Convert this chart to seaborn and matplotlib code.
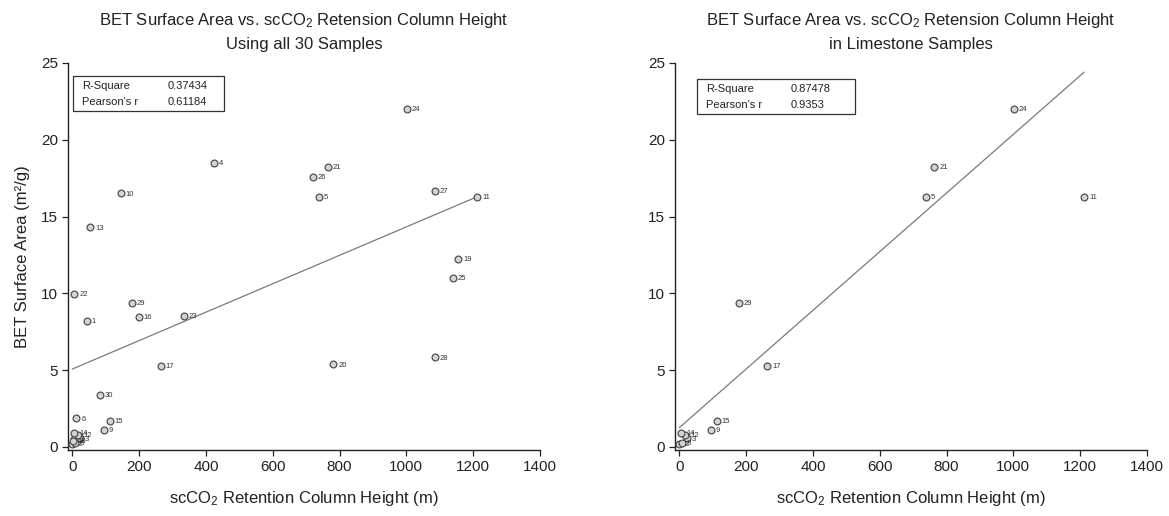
import matplotlib
matplotlib.use("Agg")
import matplotlib.pyplot as plt
import seaborn as sns
import pandas as pd
from matplotlib.patches import Rectangle

# ---------------- data ----------------
sample_ids = [1, 2, 3, 4, 5, 6, 7, 8, 9, 10,
              11, 12, 13, 14, 15, 16, 17, 18, 19, 20,
              21, 22, 23, 24, 25, 26, 27, 28, 29, 30]
column_height = [44, 0, 22, 424, 739, 12, 6, 8, 95, 145,
                 1212, 18, 54, 6, 112, 198, 264, 2, 1156, 781,
                 764, 6, 333, 1002, 1140, 721, 1085, 1085, 178, 82]
surface_area = [8.2, 0.22, 0.55, 18.49, 16.3, 1.85, 0.5, 0.26, 1.1, 16.5,
                16.27, 0.76, 14.29, 0.91, 1.68, 8.48, 5.28, 0.38, 12.24, 5.37,
                18.25, 9.96, 8.53, 22.03, 10.98, 17.57, 16.68, 5.83, 9.35, 3.37]
limestone_ids = [2, 3, 5, 8, 9, 11, 12, 14, 15, 17, 21, 24, 29]

# linear fits as drawn in the picture (intercept, slope)
fit_intercepts = [5.07, 1.25]
fit_slopes = [0.009256, 0.0191]

stat_names = ["R-Square", "Pearson's r"]
stats_all = ["0.37434", "0.61184"]
stats_lime = ["0.87478", "0.9353"]

titles = ["BET Surface Area vs. scCO$_2$ Retension Column Height\nUsing all 30 Samples",
          "BET Surface Area vs. scCO$_2$ Retension Column Height\nin Limestone Samples"]
x_label = "scCO$_2$ Retention Column Height (m)"
y_label = "BET Surface Area (m\u00b2/g)"
x_ticks = [0, 200, 400, 600, 800, 1000, 1200, 1400]
y_ticks = [0, 5, 10, 15, 20, 25]

# ---------------- styling ----------------
sns.set_theme(style="white")
plt.rcParams["font.family"] = ["Liberation Sans", "DejaVu Sans"]
plt.rcParams["mathtext.fontset"] = "custom"
plt.rcParams["mathtext.rm"] = "Liberation Sans"
plt.rcParams["mathtext.it"] = "Liberation Sans:italic"
plt.rcParams["mathtext.bf"] = "Liberation Sans:bold"

df = pd.DataFrame({"id": sample_ids, "height": column_height, "area": surface_area})
df_lime = df[df["id"].isin(limestone_ids)]

fig = plt.figure(figsize=(11.69, 5.16), dpi=100)
ax_l = fig.add_axes([0.0582, 0.128, 0.4037, 0.750])
ax_r = fig.add_axes([0.5774, 0.128, 0.4037, 0.750])

panels = [(ax_l, df, stats_all, titles[0], True, 0),
          (ax_r, df_lime, stats_lime, titles[1], False, 1)]

for ax, data, stats, title, show_ylabel, k in panels:
    xs = [data["height"].min(), data["height"].max()]
    fit_df = pd.DataFrame({"height": xs,
                           "area": [fit_intercepts[k] + fit_slopes[k] * v for v in xs]})
    sns.lineplot(data=fit_df, x="height", y="area", ax=ax, color="#7a7a7a", lw=0.9)
    sns.scatterplot(data=data, x="height", y="area", ax=ax, s=24,
                    color="#d4d4d4", edgecolor="#505050", linewidth=0.9, zorder=3)
    for _, row in data.iterrows():
        ax.annotate(str(int(row["id"])), (row["height"], row["area"]),
                    xytext=(3.5, -0.5), textcoords="offset points",
                    fontsize=5.5, color="#333333", va="center", ha="left")
    ax.set_xlim(-13, 1400)
    ax.set_ylim(-0.2, 25)
    ax.set_xticks(x_ticks)
    ax.set_yticks(y_ticks)
    ax.tick_params(axis="both", which="both", direction="out", length=4, width=0.9,
                   labelsize=11, colors="#222222", bottom=True, left=True, pad=3)
    for side in ["top", "right"]:
        ax.spines[side].set_visible(False)
    for side in ["left", "bottom"]:
        ax.spines[side].set_color("#222222")
        ax.spines[side].set_linewidth(1.0)
    ax.set_xlabel(x_label, fontsize=12, color="#222222", labelpad=11)
    ax.set_ylabel(y_label if show_ylabel else "", fontsize=12, color="#222222", labelpad=8)
    ax.set_title(title, fontsize=12, color="#222222", pad=10, linespacing=1.6)
    # statistics box
    bx0, by0, bw, bh = (0.01, 0.875, 0.32, 0.09) if show_ylabel else (0.046, 0.868, 0.335, 0.09)
    ax.add_patch(Rectangle((bx0, by0), bw, bh, transform=ax.transAxes, fill=False,
                           edgecolor="#333333", lw=0.9, zorder=5))
    for i, (name, val) in enumerate(zip(stat_names, stats)):
        yy = by0 + bh * (0.72 - 0.45 * i)
        ax.text(bx0 + 0.02, yy, name, transform=ax.transAxes, fontsize=8,
                va="center", ha="left", color="#222222")
        ax.text(bx0 + 0.2, yy, val, transform=ax.transAxes, fontsize=8,
                va="center", ha="left", color="#222222")

fig.savefig("out.png", dpi=100, facecolor="white")
